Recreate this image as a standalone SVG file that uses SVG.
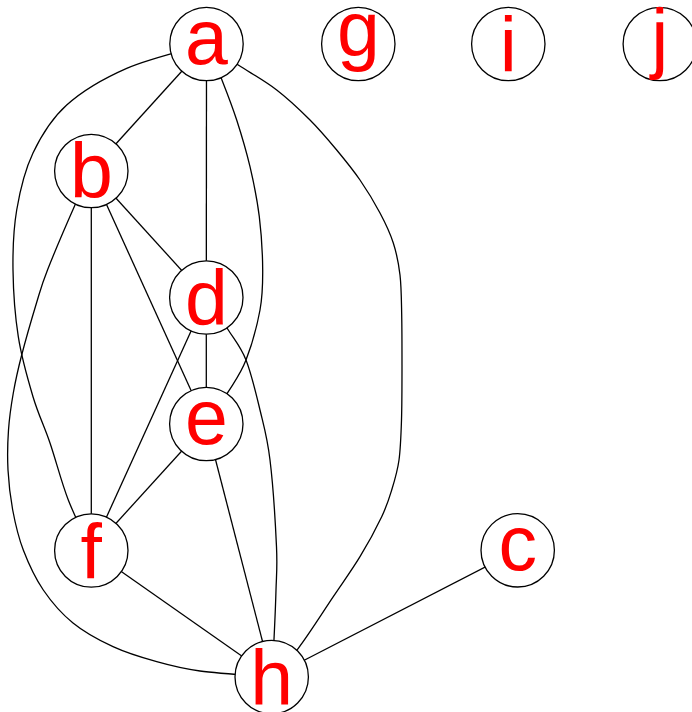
<svg xmlns="http://www.w3.org/2000/svg" width="692" height="712" viewBox="0 0 692 712">
<style>
.e{fill:none;stroke:#000;stroke-width:1.3}
.n circle{fill:#fff;stroke:#000;stroke-width:1.3}
.n text{fill:#f00;font-family:"Liberation Sans",Arial,sans-serif;font-size:77px;text-anchor:middle}
</style>
<rect width="692" height="712" fill="#fff"/>
<g id="edges">
<line class="e" x1="206.5" y1="44" x2="91.3" y2="171"/>
<line class="e" x1="206.5" y1="44" x2="206.3" y2="297.5"/>
<line class="e" x1="91.3" y1="171" x2="206.3" y2="297.5"/>
<line class="e" x1="91.3" y1="171" x2="206.3" y2="424"/>
<line class="e" x1="91.3" y1="171" x2="91.3" y2="550.5"/>
<line class="e" x1="206.3" y1="297.5" x2="206.3" y2="424"/>
<line class="e" x1="206.3" y1="297.5" x2="91.3" y2="550.5"/>
<line class="e" x1="206.3" y1="424" x2="91.3" y2="550.5"/>
<line class="e" x1="206.3" y1="424" x2="271.7" y2="677"/>
<line class="e" x1="91.3" y1="550.5" x2="271.7" y2="677"/>
<line class="e" x1="271.7" y1="677" x2="517.7" y2="550.3"/>
<path id="e-af" class="e" d="M206.5,44 C193.2,48.1 150,58.1 126.7,68.3 C103.4,78.5 82.3,90.9 66.7,105 C51.1,119.1 41.3,135.5 33,153 C24.7,170.5 20,190.5 16.7,210 C13.4,229.5 12.7,248.9 13,270 C13.3,291.1 15,315.6 18.3,336.7 C21.6,357.8 27.7,379 33,396.7 C38.3,414.4 44.1,425.8 50,443 C55.9,460.2 61.4,482.2 68.3,500 C75.2,517.8 87.5,541.7 91.3,550.5"/>
<path id="e-bh" class="e" d="M91.3,171 C88.6,176.7 82.3,188.5 75,205 C67.7,221.5 53.9,253.7 47.5,270 C41.1,286.3 40.8,288.8 36.5,303 C32.2,317.2 25.6,340 21.7,355 C17.8,370 15.5,380.5 13.3,393 C11.1,405.5 9.4,417.2 8.5,430 C7.6,442.8 7.3,456.7 8,470 C8.7,483.3 10.2,496.7 12.7,510 C15.2,523.3 18.2,536.7 23.3,550 C28.4,563.3 35,577.8 43.3,590 C51.6,602.2 61.4,613.6 73,623 C84.6,632.5 99,640.2 113,646.7 C127,653.2 142.2,657.7 156.7,661.7 C171.2,665.8 180.8,668.5 200,671 C219.2,673.6 259.8,676 271.7,677"/>
<path id="e-ah" class="e" d="M206.5,44 C211.8,47.5 226.6,57.3 238.3,65 C250,72.7 264.8,80.8 276.7,90 C288.7,99.2 300,110 310,120 C320,130 328.4,140 336.7,150 C345,160 352.8,169.5 360,180 C367.2,190.5 374.5,202.5 380,213 C385.6,223.5 390,232.7 393.3,243 C396.6,253.3 398.6,263 400,275 C401.4,287 401.4,300 401.7,315 C402,330 402,347.5 402,365 C402,382.5 402,404.2 401.5,420 C401,435.8 400.6,448.3 399,460 C397.4,471.7 394.6,480.6 391.7,490 C388.8,499.5 387,505.6 381.7,516.7 C376.4,527.8 368.1,543.4 360,556.7 C351.9,570 343.6,581.4 333.3,596.7 C323,612 308.6,634.9 298.3,648.3 C288,661.7 276.1,672.2 271.7,677"/>
<path id="e-ae" class="e" d="M206.5,44 C209,49.9 216.7,66.6 221.7,79.3 C226.7,92 232,105.4 236.7,120 C241.4,134.6 246.2,150.6 250,166.7 C253.8,182.8 257.2,199.5 259.3,216.7 C261.4,233.9 262.6,254.5 262.7,270 C262.8,285.6 262.8,295 260,310 C257.2,325 251.3,346.4 246,360 C240.7,373.6 234.9,381 228.3,391.7 C221.7,402.4 210,418.6 206.3,424"/>
<path id="e-dh" class="e" d="M206.3,297.5 C210,302.5 221.7,319.5 228.3,330 C234.9,340.5 240.7,346.7 246,360 C251.3,373.3 256,393.3 260,410 C264,426.7 267.3,437.2 270,460 C272.8,482.8 275.5,525 276.5,546.7 C277.5,568.4 276.4,574.6 276,590 C275.6,605.4 274.7,624.8 274,639.3 C273.3,653.8 272.1,670.7 271.7,677"/>
</g>
<g id="a" class="n"><circle cx="206.5" cy="44" r="36.7"/><text x="206.5" y="64">a</text></g>
<g id="g" class="n"><circle cx="358.3" cy="44" r="36.7"/><text x="358.3" y="56.3">g</text></g>
<g id="i" class="n"><circle cx="508.3" cy="44" r="36.7"/><text x="508.3" y="71.6">i</text></g>
<g id="j" class="n"><circle cx="659.8" cy="44" r="36.7"/><text x="659.8" y="63.5">j</text></g>
<g id="b" class="n"><circle cx="91.3" cy="171" r="36.7"/><text x="91.3" y="198.1">b</text></g>
<g id="d" class="n"><circle cx="206.3" cy="297.5" r="36.7"/><text x="206.3" y="324.6">d</text></g>
<g id="e" class="n"><circle cx="206.3" cy="424" r="36.7"/><text x="206.3" y="444">e</text></g>
<g id="f" class="n"><circle cx="91.3" cy="550.5" r="36.7"/><text x="91.3" y="578.5">f</text></g>
<g id="c" class="n"><circle cx="517.7" cy="550.3" r="36.7"/><text x="517.7" y="570.3">c</text></g>
<g id="h" class="n"><circle cx="271.7" cy="677" r="36.7"/><text x="271.7" y="704.6">h</text></g>
</svg>
